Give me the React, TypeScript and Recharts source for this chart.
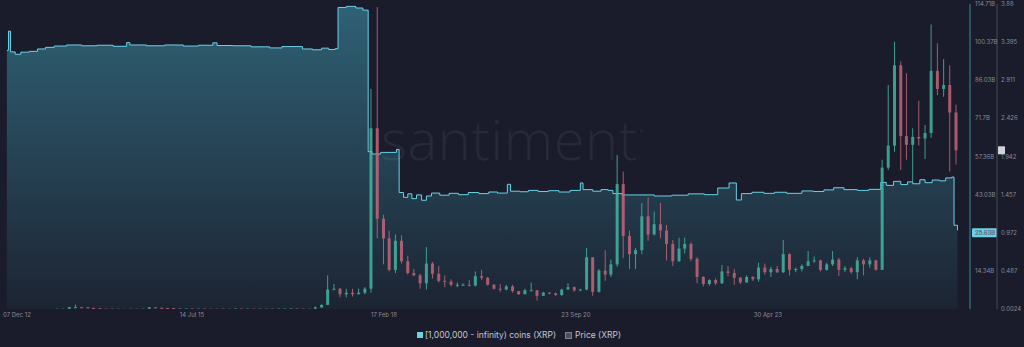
import React from 'react';
import { ComposedChart, Area, Bar, XAxis, YAxis, ReferenceLine, Legend } from 'recharts';

// time axis
const xStart = '2012-12-07';
const xEnd = '2026-01-23';
const dateTicks = ['2012-12-07', '2015-07-14', '2018-02-17', '2020-09-23', '2023-04-30'];
const dateTickLabels = ['07 Dec 12', '14 Jul 15', '17 Feb 18', '23 Sep 20', '30 Apr 23'];

// right axes
const holdingTicks = [0, 14.34, 28.69, 43.03, 57.36, 71.7, 86.03, 100.37, 114.71];
const priceTicks = [0.0024, 0.487, 0.972, 1.457, 1.942, 2.426, 2.911, 3.395, 3.88];
const lastHoldingLabel = '25.63B';
const lastPrice = 2.02;

// [1,000,000 - infinity) coins held, billions of XRP
const holdingsEarly: [string, number][] = [
  ['2013-01-10', 97.3], ['2013-01-18', 104.5], ['2013-01-28', 96.7], ['2013-02-20', 95.8],
  ['2013-03-20', 96.6], ['2013-05-01', 96.9], ['2013-06-10', 97.8], ['2013-07-20', 98.4],
  ['2013-09-01', 98.9], ['2013-11-01', 99.3], ['2014-01-15', 99.0], ['2014-04-01', 99.2],
  ['2014-06-20', 98.8], ['2014-08-25', 100.2], ['2014-09-10', 99.3], ['2014-12-01', 99.0],
  ['2015-03-01', 99.3], ['2015-06-01', 98.9], ['2015-08-15', 99.2], ['2015-10-25', 100.1],
  ['2015-11-15', 99.1], ['2016-02-01', 99.0], ['2016-05-01', 98.6], ['2016-08-01', 98.2],
  ['2016-10-01', 98.7], ['2017-01-10', 97.8], ['2017-03-01', 97.5], ['2017-04-15', 98.1],
  ['2017-05-20', 97.6], ['2017-06-20', 97.9],
];
const holdingsPeak: [string, number][] = [
  ['2017-07-05', 113.4], ['2017-08-15', 113.8], ['2017-10-01', 113.2], ['2017-11-05', 112.4],
  ['2017-12-01', 59.2], ['2017-12-20', 58.3], ['2018-02-01', 58.9], ['2018-04-20', 60.0],
];
const holdingsLate: [string, number][] = [
  ['2018-05-03', 43.8], ['2018-05-25', 42.0], ['2018-06-15', 43.3], ['2018-07-05', 41.5],
  ['2018-07-28', 42.9], ['2018-08-22', 40.9], ['2018-09-15', 42.5], ['2018-10-10', 43.6],
  ['2018-11-20', 42.8], ['2019-01-05', 43.5], ['2019-02-20', 43.0], ['2019-04-10', 43.8],
  ['2019-06-01', 43.4], ['2019-07-20', 44.0], ['2019-09-01', 43.6], ['2019-10-20', 46.9],
  ['2019-11-05', 44.3], ['2019-12-20', 44.1], ['2020-02-01', 44.6], ['2020-03-20', 44.2],
  ['2020-05-10', 44.5], ['2020-07-01', 44.0], ['2020-08-25', 44.6], ['2020-10-15', 47.4],
  ['2020-10-28', 44.9], ['2020-12-15', 44.3], ['2021-01-25', 44.9], ['2021-03-01', 44.6],
  ['2021-03-25', 43.4], ['2021-05-10', 42.9], ['2021-08-01', 42.9], ['2021-10-15', 42.5],
  ['2022-01-10', 42.8], ['2022-04-01', 43.3], ['2022-06-20', 43.0], ['2022-08-25', 45.5],
  ['2022-10-20', 47.4], ['2022-11-25', 41.0], ['2022-12-20', 43.4], ['2023-02-10', 43.9],
  ['2023-04-10', 43.5], ['2023-06-01', 43.9], ['2023-08-01', 43.5], ['2023-10-15', 44.4],
  ['2023-12-10', 44.2], ['2024-02-01', 44.8], ['2024-03-20', 45.6], ['2024-05-10', 44.9],
  ['2024-07-15', 44.6], ['2024-09-10', 45.0], ['2024-11-08', 47.6], ['2024-12-05', 46.5],
  ['2025-01-10', 48.0], ['2025-02-15', 46.8], ['2025-03-20', 47.8], ['2025-04-15', 47.1],
  ['2025-05-20', 48.6], ['2025-06-15', 47.5], ['2025-07-20', 48.5], ['2025-08-25', 48.2],
  ['2025-09-25', 49.3], ['2025-10-25', 49.6], ['2025-11-05', 31.5], ['2025-11-22', 29.6],
];

// monthly price candles [open, high, low, close], first month Sep 2013
const priceFirstMonth = '2013-09';
const price2013 = [
  [0.005, 0.006, 0.0045, 0.005], [0.005, 0.006, 0.0045, 0.0055], [0.0055, 0.03, 0.005, 0.025],
  [0.025, 0.06, 0.015, 0.025],
];
const price2014 = [
  [0.025, 0.03, 0.02, 0.024], [0.024, 0.026, 0.014, 0.015], [0.015, 0.018, 0.01, 0.012],
  [0.012, 0.013, 0.0045, 0.006], [0.006, 0.007, 0.004, 0.0045], [0.0045, 0.006, 0.004, 0.0055],
  [0.0055, 0.006, 0.0045, 0.005], [0.005, 0.005, 0.0039, 0.004], [0.004, 0.006, 0.004, 0.005],
  [0.005, 0.006, 0.004, 0.0048], [0.0048, 0.006, 0.0045, 0.006], [0.006, 0.027, 0.006, 0.024],
];
const price2015 = [
  [0.024, 0.026, 0.013, 0.018], [0.018, 0.018, 0.013, 0.014], [0.014, 0.015, 0.01, 0.013],
  [0.013, 0.013, 0.0075, 0.009], [0.009, 0.01, 0.007, 0.0075], [0.0075, 0.0095, 0.0075, 0.0085],
  [0.0085, 0.009, 0.007, 0.0075], [0.0075, 0.0085, 0.007, 0.0075], [0.0075, 0.0075, 0.0055, 0.006],
  [0.006, 0.0065, 0.005, 0.0055], [0.0055, 0.006, 0.0045, 0.005], [0.005, 0.007, 0.005, 0.006],
];
const price2016 = [
  [0.006, 0.007, 0.0055, 0.0058], [0.0058, 0.0095, 0.0055, 0.0075], [0.0075, 0.009, 0.006, 0.0065],
  [0.0065, 0.008, 0.0065, 0.0068], [0.0068, 0.007, 0.0055, 0.006], [0.006, 0.0075, 0.0055, 0.0065],
  [0.0065, 0.0075, 0.006, 0.0063], [0.0063, 0.0065, 0.0055, 0.0062], [0.0062, 0.0075, 0.0058, 0.0072],
  [0.0072, 0.009, 0.0068, 0.0075], [0.0075, 0.0095, 0.0065, 0.0085], [0.0085, 0.0085, 0.0063, 0.0065],
];
const price2017 = [
  [0.0065, 0.007, 0.0058, 0.0062], [0.0062, 0.0063, 0.0055, 0.0058], [0.0058, 0.035, 0.0056, 0.022],
  [0.022, 0.06, 0.022, 0.055], [0.055, 0.43, 0.055, 0.25], [0.25, 0.32, 0.24, 0.26],
  [0.26, 0.27, 0.15, 0.19], [0.19, 0.26, 0.15, 0.21], [0.21, 0.26, 0.16, 0.19],
  [0.19, 0.26, 0.19, 0.21], [0.21, 0.28, 0.19, 0.26], [0.26, 2.8, 0.21, 2.3],
];
const price2018 = [
  [2.3, 3.84, 0.9, 1.15], [1.15, 1.2, 0.57, 0.9], [0.9, 1.0, 0.48, 0.5],
  [0.5, 0.95, 0.46, 0.87], [0.87, 0.94, 0.58, 0.61], [0.61, 0.68, 0.44, 0.46],
  [0.46, 0.51, 0.42, 0.43], [0.43, 0.45, 0.26, 0.33], [0.33, 0.79, 0.25, 0.58],
  [0.58, 0.6, 0.39, 0.45], [0.45, 0.55, 0.34, 0.36], [0.36, 0.43, 0.28, 0.35],
];
const price2019 = [
  [0.35, 0.38, 0.29, 0.31], [0.31, 0.34, 0.28, 0.31], [0.31, 0.33, 0.3, 0.31],
  [0.31, 0.37, 0.29, 0.3], [0.3, 0.48, 0.29, 0.42], [0.42, 0.5, 0.37, 0.4],
  [0.4, 0.41, 0.3, 0.31], [0.31, 0.32, 0.25, 0.26], [0.26, 0.32, 0.22, 0.25],
  [0.25, 0.31, 0.24, 0.29], [0.29, 0.31, 0.21, 0.23], [0.23, 0.23, 0.18, 0.19],
];
const price2020 = [
  [0.19, 0.26, 0.19, 0.24], [0.24, 0.34, 0.23, 0.24], [0.24, 0.24, 0.11, 0.17],
  [0.17, 0.22, 0.17, 0.21], [0.21, 0.22, 0.19, 0.2], [0.2, 0.21, 0.17, 0.18],
  [0.18, 0.26, 0.17, 0.25], [0.25, 0.33, 0.25, 0.28], [0.28, 0.29, 0.22, 0.24],
  [0.24, 0.26, 0.23, 0.25], [0.25, 0.78, 0.24, 0.66], [0.66, 0.66, 0.17, 0.22],
];
const price2021 = [
  [0.22, 0.51, 0.21, 0.49], [0.49, 0.75, 0.36, 0.44], [0.44, 0.63, 0.41, 0.57],
  [0.57, 1.96, 0.54, 1.59], [1.59, 1.75, 0.65, 0.93], [0.93, 1.0, 0.51, 0.7],
  [0.7, 0.78, 0.51, 0.75], [0.75, 1.35, 0.7, 1.18], [1.18, 1.42, 0.87, 0.95],
  [0.95, 1.24, 0.94, 1.08], [1.08, 1.35, 0.9, 1.0], [1.0, 1.07, 0.62, 0.83],
];
const price2022 = [
  [0.83, 0.88, 0.55, 0.61], [0.61, 0.91, 0.6, 0.77], [0.77, 0.91, 0.71, 0.83],
  [0.83, 0.85, 0.61, 0.64], [0.64, 0.66, 0.33, 0.41], [0.41, 0.42, 0.29, 0.32],
  [0.32, 0.38, 0.3, 0.37], [0.37, 0.39, 0.31, 0.33], [0.33, 0.56, 0.32, 0.48],
  [0.48, 0.55, 0.42, 0.46], [0.46, 0.51, 0.31, 0.4], [0.4, 0.41, 0.32, 0.34],
];
const price2023 = [
  [0.34, 0.43, 0.34, 0.41], [0.41, 0.42, 0.36, 0.38], [0.38, 0.59, 0.35, 0.53],
  [0.53, 0.58, 0.44, 0.47], [0.47, 0.54, 0.41, 0.51], [0.51, 0.55, 0.46, 0.47],
  [0.47, 0.88, 0.46, 0.7], [0.7, 0.71, 0.43, 0.5], [0.5, 0.53, 0.47, 0.51],
  [0.51, 0.57, 0.48, 0.55], [0.55, 0.74, 0.55, 0.61], [0.61, 0.67, 0.59, 0.62],
];
const price2024 = [
  [0.62, 0.63, 0.48, 0.5], [0.5, 0.59, 0.49, 0.57], [0.57, 0.74, 0.55, 0.63],
  [0.63, 0.65, 0.42, 0.5], [0.5, 0.55, 0.47, 0.52], [0.52, 0.54, 0.45, 0.47],
  [0.47, 0.66, 0.38, 0.62], [0.62, 0.64, 0.43, 0.57], [0.57, 0.66, 0.53, 0.62],
  [0.62, 0.63, 0.49, 0.5], [0.5, 1.9, 0.5, 1.8], [1.8, 2.85, 1.77, 2.08],
];
const price2025 = [
  [2.08, 3.4, 2.0, 3.1], [3.1, 3.15, 1.77, 2.2], [2.2, 3.0, 1.9, 2.09],
  [2.09, 2.3, 1.61, 2.19], [2.19, 2.65, 2.08, 2.17], [2.17, 2.34, 1.91, 2.24],
  [2.24, 3.62, 2.18, 3.03], [3.03, 3.38, 2.72, 2.8], [2.8, 3.18, 2.7, 2.85],
  [2.85, 3.1, 1.75, 2.5], [2.5, 2.6, 1.84, lastPrice],
];

const BG = '#1b1c2b';
const LINE = '#69d2e7';
const UP = '#45bfa8';
const DOWN = '#cf6a7e';
const TICK = '#858a97';
const FONT = 'Inter, "Noto Sans", sans-serif';
const BODY_W = 3;

const ts = (s: string) => Date.parse(s + 'T00:00:00Z');

type Row = { t: number; hold?: number; open?: number; high?: number; low?: number; close?: number };

const buildRows = (): Row[] => {
  const rows: Row[] = [];
  [...holdingsEarly, ...holdingsPeak, ...holdingsLate].forEach(([d, v]) => rows.push({ t: ts(d), hold: v }));
  const candles = [
    ...price2013, ...price2014, ...price2015, ...price2016, ...price2017, ...price2018, ...price2019,
    ...price2020, ...price2021, ...price2022, ...price2023, ...price2024, ...price2025,
  ];
  const [y0, m0] = priceFirstMonth.split('-').map(Number);
  candles.forEach(([open, high, low, close], i) => {
    const m = m0 - 1 + i;
    const t = Date.UTC(y0 + Math.floor(m / 12), m % 12, 15);
    rows.push({ t, open, high, low, close });
  });
  return rows.sort((a, b) => a.t - b.t);
};

const rows = buildRows();

// wick from the range bar, body drawn from open/close on the same scale
const Candle = (props: any) => {
  const { x, y, width, height, payload } = props;
  if (!payload || payload.high == null) return null;
  const { open, high, low, close } = payload;
  const span = high - low || 1;
  const k = height / span;
  const yOf = (v: number) => y + (high - v) * k;
  const color = close >= open ? UP : DOWN;
  const top = yOf(Math.max(open, close));
  const bottom = yOf(Math.min(open, close));
  const cx = x + width / 2;
  return (
    <g opacity={0.8}>
      <line x1={cx} x2={cx} y1={y} y2={y + height} stroke={color} strokeWidth={1} />
      <rect x={cx - BODY_W / 2} y={top} width={BODY_W} height={Math.max(1, bottom - top)} fill={color} />
    </g>
  );
};

const DateTick = (props: any) => {
  const { x, y, payload, index } = props;
  const label = dateTickLabels[dateTicks.map(ts).indexOf(payload.value)];
  return (
    <text x={index === 0 ? x + 3 : x} y={y + 8} textAnchor={index === 0 ? 'start' : 'middle'} fill={TICK} fontSize={6} fontFamily={FONT}>
      {label}
    </text>
  );
};

const HoldingLabel = (props: any) => {
  const { viewBox } = props;
  if (!viewBox) return null;
  const x = viewBox.x + viewBox.width + 2;
  return (
    <g>
      <rect x={x} y={viewBox.y - 4.5} width={25} height={9} rx={1} fill={LINE} />
      <text x={x + 3} y={viewBox.y + 2} fill="#12313a" fontSize={6} fontFamily={FONT}>
        {lastHoldingLabel}
      </text>
    </g>
  );
};

const PriceLabel = (props: any) => {
  const { viewBox } = props;
  if (!viewBox) return null;
  return <rect x={viewBox.x + viewBox.width + 28} y={viewBox.y - 4} width={7} height={8} fill="#cfd2d8" />;
};

const LegendContent = () => (
  <div style={{ height: 24, width: 1024, paddingLeft: 14, boxSizing: 'border-box', display: 'flex', justifyContent: 'center', alignItems: 'center', gap: 9, fontFamily: FONT, fontSize: 8.5, color: '#c3c7d0' }}>
    <span style={{ display: 'flex', alignItems: 'center', gap: 2 }}>
      <span style={{ width: 6, height: 6, background: LINE, display: 'inline-block' }} />
      [1,000,000 - infinity) coins (XRP)
    </span>
    <span style={{ display: 'flex', alignItems: 'center', gap: 3 }}>
      <span style={{ width: 5, height: 5, border: '1px solid #7d8290', background: '#4b4f5d', display: 'inline-block' }} />
      Price (XRP)
    </span>
  </div>
);

export default function App() {
  return (
    <div style={{ position: 'relative', width: 1024, height: 347, background: BG, overflow: 'hidden' }}>
      <style>{'body{margin:0}'}</style>
      <ComposedChart width={1024} height={347} data={rows} margin={{ top: 4, right: 0, bottom: 0, left: 0 }}>
        <defs>
          <linearGradient id="holdFill" x1="0" y1="0" x2="0" y2="1">
            <stop offset="0%" stopColor="#2f6174" />
            <stop offset="100%" stopColor="#1c2433" />
          </linearGradient>
        </defs>
        <XAxis
          dataKey="t"
          type="number"
          scale="time"
          domain={[ts(xStart), ts(xEnd)]}
          ticks={dateTicks.map(ts)}
          interval={0}
          tick={<DateTick />}
          axisLine={false}
          tickLine={false}
          tickSize={0}
          tickMargin={0}
          height={14}
          allowDataOverflow
        />
        <YAxis
          yAxisId="h"
          orientation="right"
          width={27}
          domain={[0, 114.71]}
          ticks={holdingTicks}
          interval={0}
          tickFormatter={(v: number) => (v === 0 ? '' : `${v}B`)}
          tick={{ fill: TICK, fontSize: 6, fontFamily: FONT }}
          tickLine={false}
          tickSize={0}
          tickMargin={5}
          axisLine={{ stroke: '#3b8a9c' }}
          allowDataOverflow
        />
        <YAxis
          yAxisId="p"
          orientation="right"
          width={27}
          domain={[0.0024, 3.88]}
          ticks={priceTicks}
          interval={0}
          tickFormatter={(v: number) => String(v)}
          tick={{ fill: TICK, fontSize: 6, fontFamily: FONT }}
          tickLine={false}
          tickSize={0}
          tickMargin={4}
          axisLine={{ stroke: '#454a59' }}
          allowDataOverflow
        />
        <Legend verticalAlign="bottom" height={24} content={<LegendContent />} />
        <Area
          yAxisId="h"
          dataKey="hold"
          type="stepAfter"
          connectNulls
          stroke={LINE}
          strokeWidth={1}
          fill="url(#holdFill)"
          fillOpacity={1}
          dot={false}
          activeDot={false}
          isAnimationActive={false}
        />
        <Bar
          yAxisId="p"
          dataKey={(d: Row) => (d.high == null ? null : [d.low, d.high])}
          barSize={5}
          shape={<Candle />}
          isAnimationActive={false}
        />
        <ReferenceLine yAxisId="h" y={holdingTicks[2]} stroke="none" label={<HoldingLabel />} ifOverflow="visible" />
        <ReferenceLine yAxisId="p" y={lastPrice} stroke="none" label={<PriceLabel />} ifOverflow="visible" />
      </ComposedChart>
      <div
        style={{
          position: 'absolute',
          left: 381,
          top: 100,
          fontFamily: '"Open Sans", sans-serif',
          fontWeight: 300,
          fontSize: 56,
          letterSpacing: 0.5,
          color: 'rgba(255,255,255,0.06)',
          pointerEvents: 'none',
        }}
      >
        santiment<span style={{ fontSize: 30, verticalAlign: 'super' }}>·</span>
      </div>
    </div>
  );
}
